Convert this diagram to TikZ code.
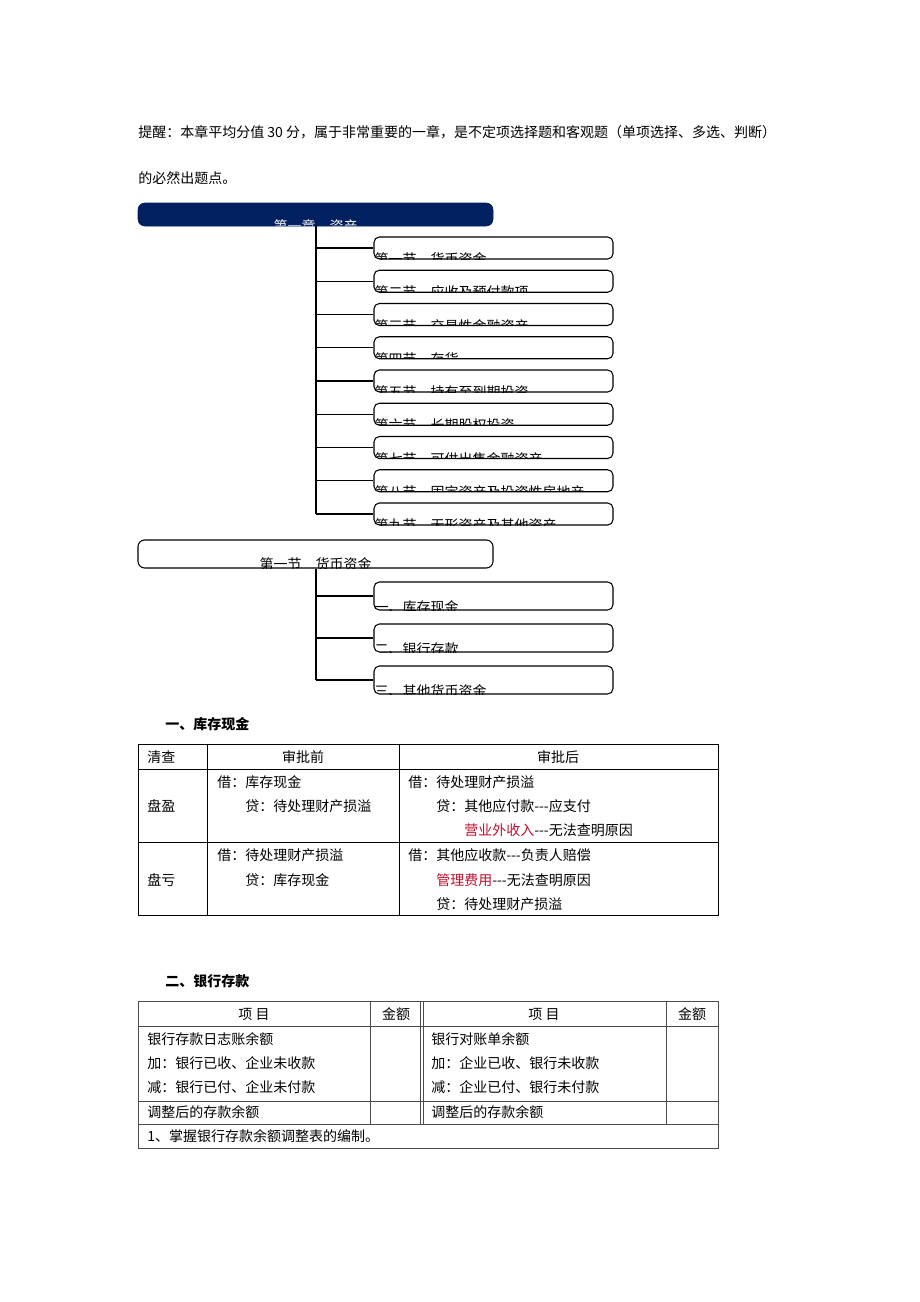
\documentclass[tikz,border=0pt]{standalone}
\usepackage{fontspec}
\setmainfont{Noto Sans CJK SC}
\usetikzlibrary{calc}
\definecolor{navy}{RGB}{0,32,96}
\definecolor{tabred}{RGB}{192,16,48}
\newcommand{\dsh}{-\kern0pt-\kern0pt-}
\tikzset{
  every node/.style={font=\fontsize{10.5pt}{13pt}\selectfont, inner sep=0pt},
  cliptext/.style={draw=none, fill=none, minimum width=0pt, minimum height=0pt, rounded corners=0pt},
  chapbox/.style={draw=navy, fill=navy, rounded corners=5pt, minimum width=266.25pt, minimum height=17.25pt,
    path picture={\node[cliptext, text=white, anchor=base] at ($(path picture bounding box.south)+(0,5.6)$) {#1};}},
  secbox/.style={draw, line width=0.8pt, fill=white, rounded corners=4pt, minimum width=179.25pt, minimum height=16.5pt,
    path picture={\node[cliptext, anchor=base west] at ($(path picture bounding box.south west)+(0,5.6)$) {#1};}},
  headbox/.style={draw, line width=0.8pt, fill=white, rounded corners=5pt, minimum width=266.25pt, minimum height=21pt,
    path picture={\node[cliptext, anchor=base] at ($(path picture bounding box.south)+(0,1.6)$) {#1};}},
  itembox/.style={draw, line width=0.8pt, fill=white, rounded corners=4pt, minimum width=179.25pt, minimum height=21pt,
    path picture={\node[cliptext, anchor=base west] at ($(path picture bounding box.south west)+(0,2.6)$) {#1};}},
  trunk/.style={line width=1.5pt},
  branch/.style={line width=1.1pt},
  tab/.style={line width=0.7pt},
  tabgray/.style={line width=0.7pt, draw=black!70},
  heading/.style={anchor=west, font=\fontsize{10.5pt}{13pt}\selectfont\bfseries},
  cell/.style={anchor=west}
}

\begin{document}
\begin{tikzpicture}[x=0.75pt, y=-0.75pt]
\fill[white] (0,0) rectangle (920,1302);

% reminder
\node[cell] (tip1) at (138,132) {提醒：本章平均分值 30 分，属于非常重要的一章，是不定项选择题和客观题（单项选择、多选、判断）};
\node[cell] (tip2) at (138,178) {的必然出题点。};

% chapter tree
\node[chapbox={第一章\quad 资产}] (chap) at (315.5,214.5) {};
\foreach \n/\t [count=\i] in {一/货币资金, 二/应收及预付款项, 三/交易性金融资产, 四/存货,
  五/持有至到期投资, 六/长期股权投资, 七/可供出售金融资产, 八/固定资产及投资性房地产, 九/无形资产及其他资产}
  \node[secbox={第\n 节\quad \t}] (sec\i) at (493.5,{248+33.25*(\i-1)}) {};
\draw[trunk] (chap.south) -- (chap.south |- sec9.west);
\foreach \i in {1,...,9}
  \draw[branch] (chap.south |- sec\i.west) -- (sec\i.west);

% section tree
\node[headbox={第一节\quad 货币资金}] (cash) at (315.5,554) {};
\foreach \t [count=\i] in {一、库存现金, 二、银行存款, 三、其他货币资金}
  \node[itembox={\t}] (item\i) at (493.5,{596+42*(\i-1)}) {};
\draw[trunk] (cash.south) -- (cash.south |- item3.west);
\foreach \i in {1,2,3}
  \draw[branch] (cash.south |- item\i.west) -- (item\i.west);

% table 1
\node[heading] (h1) at (165,724) {一、库存现金};
\draw[tab] (138,744) rectangle (718,915);
\draw[tab] (138,769) -- (718,769) (138,842) -- (718,842)
  (207,744) -- (207,915) (399,744) -- (399,915);
\node[cell] (q0) at (147,757) {清查};
\node (q1) at (303,757) {审批前};
\node (q2) at (558,757) {审批后};
\node[cell] (y0) at (147,806) {盘盈};
\node[cell] (y1) at (217,782) {借：库存现金};
\node[cell] (y2) at (245,806) {贷：待处理财产损溢};
\node[cell] (y3) at (408,782) {借：待处理财产损溢};
\node[cell] (y4) at (436,806) {贷：其他应付款\dsh 应支付};
\node[cell] (y5) at (464,830) {\textcolor{tabred}{营业外收入}\dsh 无法查明原因};
\node[cell] (k0) at (147,880) {盘亏};
\node[cell] (k1) at (217,855) {借：待处理财产损溢};
\node[cell] (k2) at (245,880) {贷：库存现金};
\node[cell] (k3) at (408,855) {借：其他应收款\dsh 负责人赔偿};
\node[cell] (k4) at (436,880) {\textcolor{tabred}{管理费用}\dsh 无法查明原因};
\node[cell] (k5) at (436,904) {贷：待处理财产损溢};

% table 2
\node[heading] (h2) at (165,981) {二、银行存款};
\draw[tabgray] (138,1001) rectangle (718,1148);
\draw[tabgray] (138,1026) -- (718,1026) (138,1101) -- (718,1101) (138,1124) -- (718,1124);
\draw[tabgray] (370,1001) -- (370,1124) (420,1001) -- (420,1124)
  (423,1001) -- (423,1124) (666,1001) -- (666,1124);
\node (b1) at (254,1014) {项 目};
\node (b2) at (396,1014) {金额};
\node (b3) at (544,1014) {项 目};
\node (b4) at (692,1014) {金额};
\node[cell] (l1) at (147,1039) {银行存款日志账余额};
\node[cell] (l2) at (147,1063) {加：银行已收、企业未收款};
\node[cell] (l3) at (147,1087) {减：银行已付、企业未付款};
\node[cell] (l4) at (147,1112) {调整后的存款余额};
\node[cell] (r1) at (431,1039) {银行对账单余额};
\node[cell] (r2) at (431,1063) {加：企业已收、银行未收款};
\node[cell] (r3) at (431,1087) {减：企业已付、银行未付款};
\node[cell] (r4) at (431,1112) {调整后的存款余额};
\node[cell] (note) at (147,1136) {1、掌握银行存款余额调整表的编制。};
\end{tikzpicture}
\end{document}
